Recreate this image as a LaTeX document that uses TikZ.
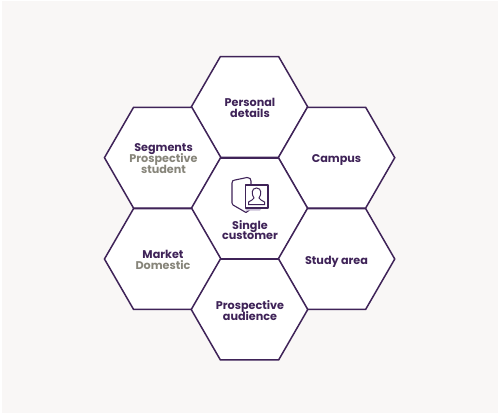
\documentclass[tikz,border=0pt]{standalone}
\usepackage{fontspec}
\setmainfont{Poppins}
\usetikzlibrary{shapes.geometric}
\definecolor{pagebg}{HTML}{F9F7F6}
\definecolor{hexline}{HTML}{3F2358}
\definecolor{greytext}{HTML}{87857A}
\definecolor{iconband}{HTML}{C9BED6}
\newcommand{\hexlabelfont}{\fontsize{11.2}{10.8}\selectfont\bfseries\lineskiplimit=-20pt\relax}
\tikzset{
  hexcell/.style={regular polygon,regular polygon sides=6,minimum size=116.5pt,inner sep=0pt,outer sep=0pt,draw=hexline,line width=1.5pt,fill=white},
  maintext/.style={text=hexline,font=\hexlabelfont,align=center,inner sep=0pt},
  iconline/.style={draw=hexline,line width=1.1pt,line join=round,fill=white}
}
\begin{document}
\begin{tikzpicture}[x=1pt,y=-1pt]
\useasboundingbox (0,0) rectangle (500,417);
\fill[white] (0,0) rectangle (500,417);
\fill[pagebg] (1.5,1) rectangle (497.5,413);
\node[hexcell] (top) at (249.5,107) {};
\node[hexcell] (lt) at (162.7,157.7) {};
\node[hexcell] (rt) at (336.5,157.7) {};
\node[hexcell] (mid) at (249.5,208.5) {};
\node[hexcell] (lb) at (162.7,259) {};
\node[hexcell] (rb) at (336.5,259) {};
\node[hexcell] (bot) at (249.5,309.5) {};
\node[maintext] (t1) at (250,108) {Personal\\details};
\node[maintext] (t2) at (163.5,158.5) {Segments\\\textcolor{greytext}{Prospective}\\\textcolor{greytext}{student}};
\node[maintext] (t3) at (336.5,160) {Campus};
\node[maintext] (t4) at (250,230) {Single\\customer};
\node[maintext] (t5) at (163,260) {Market\\\textcolor{greytext}{Domestic}};
\node[maintext] (t6) at (336.5,261.5) {Study area};
\node[maintext] (t7) at (250,310.5) {Prospective\\audience};
% folder icon
\draw[iconline] (232,183) .. controls (232,181) and (233,180) .. (235,180) -- (247,177.5) .. controls (250,177.5) and (251,179) .. (251,181) -- (251,207) .. controls (251,209) and (249,210.5) .. (246,212.5) -- (233,205) .. controls (232,204.5) and (232,204) .. (232,203) -- cycle;
\fill[iconband] (245.5,208) -- (262,208) -- (260,210.5) -- (245.5,210.5) -- cycle;
\draw[iconline] (245.5,185) rectangle (268,208);
\draw[draw=hexline,line width=1pt,fill=white] (248.5,204.5) -- (248.5,202) .. controls (251,200) and (253.5,200) .. (254,198) .. controls (251.5,195) and (251,188) .. (256.5,188) .. controls (262,188) and (261.5,195) .. (259,198) .. controls (259.5,200) and (262,200) .. (264.5,202) -- (264.5,204.5) -- cycle;
\end{tikzpicture}
\end{document}
